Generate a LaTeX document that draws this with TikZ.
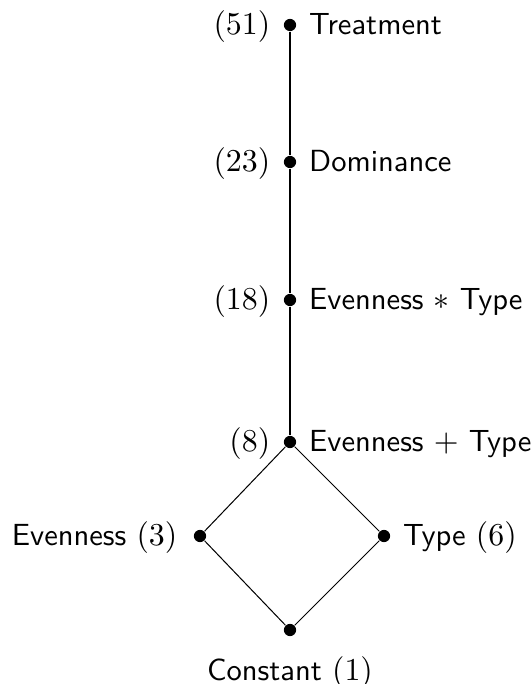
\documentclass[tikz,border=0pt]{standalone}
\begin{document}
\begin{tikzpicture}[x=0.3436pt,y=-0.3436pt,
  ndot/.style={circle,fill=black,inner sep=0pt,minimum size=4.2pt},
  link/.style={line width=0.35pt},
  mname/.style={inner sep=0pt,font=\fontsize{10.5}{12.6}\selectfont\sffamily},
  mcount/.style={inner sep=0pt,font=\fontsize{10.5}{12.6}\selectfont}]
\useasboundingbox (0,0) rectangle (530,684);
% lattice of models
\node[ndot] (treat) at (290,25) {};
\node[ndot] (dom) at (290,162) {};
\node[ndot] (inter) at (290,300) {};
\node[ndot] (add) at (290,442) {};
\node[ndot] (even) at (200,536) {};
\node[ndot] (type) at (384,536) {};
\node[ndot] (const) at (290,630) {};
\draw[link] (treat) -- (dom) -- (inter) -- (add);
\draw[link] (add) -- (even) -- (const) -- (type) -- (add);
% names and parameter counts
\node[mname,anchor=base west] (treatN) at ([xshift=6.4pt,yshift=-3.4pt]treat.center) {Treatment};
\node[mcount,anchor=base east] (treatC) at ([xshift=-6.6pt,yshift=-3.4pt]treat.center) {$(51)$};
\node[mname,anchor=base west] (domN) at ([xshift=6.4pt,yshift=-3.4pt]dom.center) {Dominance};
\node[mcount,anchor=base east] (domC) at ([xshift=-6.6pt,yshift=-3.4pt]dom.center) {$(23)$};
\node[mname,anchor=base west] (interN) at ([xshift=6.4pt,yshift=-3.4pt]inter.center) {Evenness $*$ Type};
\node[mcount,anchor=base east] (interC) at ([xshift=-6.6pt,yshift=-3.4pt]inter.center) {$(18)$};
\node[mname,anchor=base west] (addN) at ([xshift=6.4pt,yshift=-3.4pt]add.center) {Evenness $+$ Type};
\node[mcount,anchor=base east] (addC) at ([xshift=-6.6pt,yshift=-3.4pt]add.center) {$(8)$};
\node[mname,anchor=base east] (evenN) at ([xshift=-7.6pt,yshift=-3.4pt]even.center) {Evenness $(3)$};
\node[mname,anchor=base west] (typeN) at ([xshift=6.4pt,yshift=-3.4pt]type.center) {Type $(6)$};
\node[mname,anchor=base] (constN) at ([yshift=-17.2pt]const.center) {Constant $(1)$};
\end{tikzpicture}
\end{document}
